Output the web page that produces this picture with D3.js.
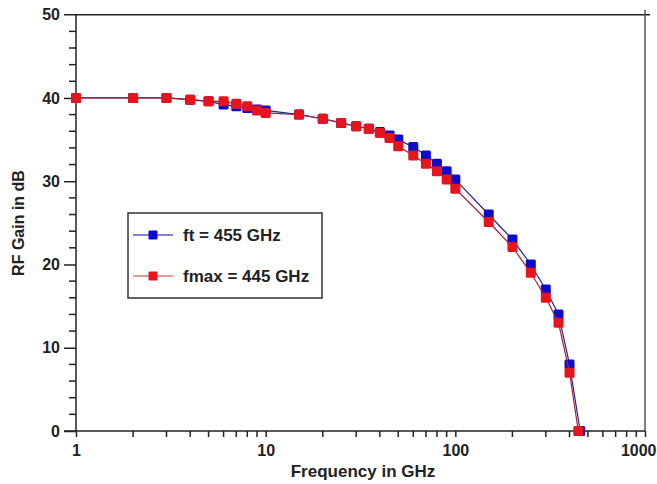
<!DOCTYPE html>
<html>
<head>
<meta charset="utf-8">
<script src="https://cdn.jsdelivr.net/npm/d3@7"></script>
<style>
  html, body { margin: 0; padding: 0; background: #fff; }
  svg { display: block; font-family: "Liberation Sans", Arial, sans-serif; }
</style>
</head>
<body>
<svg id="chart" width="657" height="484"></svg>
<script>
// Frequency points (GHz) and RF gain (dB) for both device limits
const freqFt   = [1, 2, 3, 4, 5, 6, 7, 8, 9, 10, 15, 20, 25, 30, 35, 40, 45, 50, 60, 70, 80, 90, 100, 150, 200, 250, 300, 350, 400, 455];
const gainFt   = [40, 40, 40, 39.8, 39.6, 39.2, 39.0, 38.8, 38.6, 38.5, 38.0, 37.5, 37.0, 36.6, 36.3, 35.9, 35.5, 35.0, 34.1, 33.1, 32.1, 31.2, 30.2, 26.0, 23.0, 20.0, 17.0, 14.0, 8.0, 0];
const freqFmax = [1, 2, 3, 4, 5, 6, 7, 8, 9, 10, 15, 20, 25, 30, 35, 40, 45, 50, 60, 70, 80, 90, 100, 150, 200, 250, 300, 350, 400, 445];
const gainFmax = [40, 40, 40, 39.8, 39.6, 39.6, 39.3, 39.0, 38.5, 38.2, 38.0, 37.5, 37.0, 36.6, 36.3, 35.8, 35.2, 34.2, 33.1, 32.1, 31.2, 30.2, 29.1, 25.1, 22.1, 19.0, 16.0, 13.0, 7.0, 0];
const seriesNames = ["ft = 455 GHz", "fmax = 445 GHz"];
const xTickValues = [1, 10, 100, 1000];
const yTickValues = [0, 10, 20, 30, 40, 50];

const svg = d3.select("#chart");
const plotLeft = 76, plotRight = 645, plotTop = 14.7, plotBottom = 431;

const x = d3.scaleLog().domain([1, 1000]).range([plotLeft, plotRight]);
const y = d3.scaleLinear().domain([0, 50]).range([plotBottom, plotTop]);

const axisColor = "#222";

// Frame: top and right edges, with short overhangs at the corner
svg.append("line").attr("x1", plotLeft - 12).attr("x2", plotRight + 5)
  .attr("y1", plotTop).attr("y2", plotTop).attr("stroke", axisColor).attr("stroke-width", 1.5);
svg.append("line").attr("x1", plotRight).attr("x2", plotRight)
  .attr("y1", plotTop - 5).attr("y2", plotBottom).attr("stroke", "#555").attr("stroke-width", 1.5);

// Y axis
const yMinor = d3.range(0, 51, 2).filter(v => v % 10 !== 0);
const yAxisG = svg.append("g").attr("transform", `translate(${plotLeft},0)`);
yAxisG.call(d3.axisLeft(y).tickValues(yTickValues).tickSize(12).tickPadding(4).tickFormat(d3.format("d")));
yAxisG.selectAll(".tick").filter(d => d === 50).select("line").remove();
yAxisG.append("g").selectAll("line").data(yMinor).join("line")
  .attr("x1", -7).attr("x2", 0).attr("y1", d => y(d)).attr("y2", d => y(d))
  .attr("stroke", axisColor).attr("stroke-width", 1.5);

// X axis
const xMinor = [];
[1, 10, 100].forEach(dec => { for (let k = 2; k <= 9; k++) xMinor.push(dec * k); });
const xAxisG = svg.append("g").attr("transform", `translate(0,${plotBottom})`);
xAxisG.call(d3.axisBottom(x).tickValues(xTickValues).tickSize(6).tickPadding(8).tickFormat(d3.format("d")));
xAxisG.append("g").selectAll("line").data(xMinor).join("line")
  .attr("x1", d => x(d)).attr("x2", d => x(d)).attr("y1", 0).attr("y2", 6)
  .attr("stroke", axisColor).attr("stroke-width", 1.5);

[yAxisG, xAxisG].forEach(g => {
  g.select(".domain").attr("stroke", axisColor).attr("stroke-width", 1.5);
  g.selectAll(".tick line").attr("stroke", axisColor).attr("stroke-width", 1.5);
  g.selectAll(".tick text").attr("fill", "#222").attr("font-size", 16).attr("font-weight", "bold")
    .attr("font-family", "'Liberation Sans', Arial, sans-serif");
});
// Last decade label sits flush with the right edge of the canvas
xAxisG.selectAll(".tick").filter(d => d === 1000).select("text")
  .attr("text-anchor", "end").attr("x", 656 - plotRight);
yAxisG.select(".domain").attr("d", `M0,${plotBottom}V${plotTop}`);
xAxisG.select(".domain").attr("d", `M${plotLeft - 12},0H${plotRight}`);

// Axis titles
svg.append("text").attr("x", 363).attr("y", 477).attr("text-anchor", "middle")
  .attr("font-size", 17).attr("font-weight", "bold").attr("fill", "#222")
  .text("Frequency in GHz");
svg.append("text").attr("transform", "translate(24,223) rotate(-90)").attr("text-anchor", "middle")
  .attr("font-size", 16).attr("font-weight", "bold").attr("fill", "#222")
  .text("RF Gain in dB");

// Series
const series = [
  { name: seriesNames[0], f: freqFt, g: gainFt, line: "#24248f", fill: "#0b0bd0", legendLine: "#5a5ad0" },
  { name: seriesNames[1], f: freqFmax, g: gainFmax, line: "#a3203f", fill: "#e8141c", legendLine: "#d87a7a" }
];

const lineGen = d3.line().x(d => x(d[0])).y(d => y(d[1]));
const m = 10;

series.forEach(s => {
  const pts = s.f.map((f, i) => [f, s.g[i]]);
  svg.append("path").datum(pts).attr("d", lineGen)
    .attr("fill", "none").attr("stroke", s.line).attr("stroke-width", 1.2);
  svg.append("g").selectAll("rect").data(pts).join("rect")
    .attr("x", d => x(d[0]) - m / 2).attr("y", d => y(d[1]) - m / 2)
    .attr("width", m).attr("height", m).attr("rx", 1.5)
    .attr("fill", s.fill);
});

// Legend
const lg = svg.append("g");
lg.append("rect").attr("x", 128).attr("y", 213).attr("width", 194).attr("height", 85)
  .attr("fill", "#fff").attr("stroke", "#333").attr("stroke-width", 1.5);
series.forEach((s, i) => {
  const cy = 235 + i * 41;
  lg.append("line").attr("x1", 133).attr("x2", 173).attr("y1", cy).attr("y2", cy)
    .attr("stroke", s.legendLine).attr("stroke-width", 1.5);
  lg.append("rect").attr("x", 153 - 4.5).attr("y", cy - 4.5).attr("width", 9).attr("height", 9)
    .attr("rx", 1).attr("fill", s.fill);
  lg.append("text").attr("x", 183).attr("y", cy + 6)
    .attr("font-size", 17).attr("font-weight", "bold").attr("fill", "#222")
    .text(s.name);
});
</script>
</body>
</html>
